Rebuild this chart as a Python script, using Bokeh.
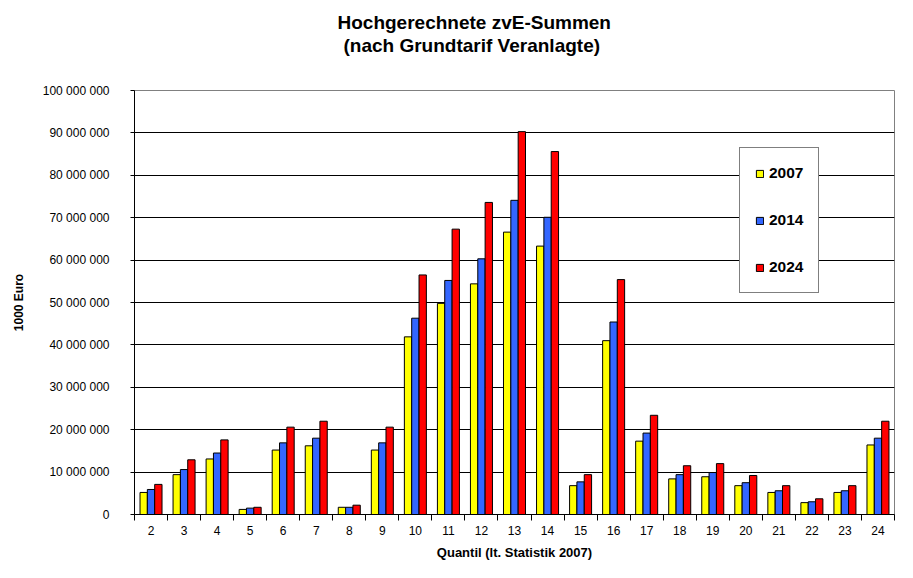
from bokeh.plotting import figure
from bokeh.models import ColumnDataSource, FixedTicker, Legend, LegendItem, Title, Range1d
from bokeh.transform import dodge
from bokeh.embed import file_html
from bokeh.resources import INLINE

quantile = ["2", "3", "4", "5", "6", "7", "8", "9", "10", "11", "12", "13",
            "14", "15", "16", "17", "18", "19", "20", "21", "22", "23", "24"]
v2007 = [5_200_000, 9_400_000, 13_100_000, 1_200_000, 15_200_000, 16_200_000,
         1_700_000, 15_200_000, 41_900_000, 49_800_000, 54_400_000, 66_600_000,
         63_300_000, 6_800_000, 41_000_000, 17_300_000, 8_400_000, 8_900_000,
         6_800_000, 5_200_000, 2_800_000, 5_200_000, 16_400_000]
v2014 = [5_900_000, 10_600_000, 14_500_000, 1_500_000, 16_900_000, 18_000_000,
         1_700_000, 16_900_000, 46_300_000, 55_200_000, 60_300_000, 74_100_000,
         70_100_000, 7_700_000, 45_400_000, 19_200_000, 9_400_000, 9_900_000,
         7_500_000, 5_600_000, 3_000_000, 5_600_000, 18_000_000]
v2024 = [7_100_000, 12_900_000, 17_600_000, 1_700_000, 20_600_000, 22_000_000,
         2_200_000, 20_600_000, 56_500_000, 67_300_000, 73_600_000, 90_300_000,
         85_600_000, 9_400_000, 55_400_000, 23_400_000, 11_500_000, 12_000_000,
         9_200_000, 6_800_000, 3_700_000, 6_800_000, 22_000_000]
series_names = ["2007", "2014", "2024"]
y_ticks = [0, 10_000_000, 20_000_000, 30_000_000, 40_000_000, 50_000_000,
           60_000_000, 70_000_000, 80_000_000, 90_000_000, 100_000_000]
y_tick_labels = ["0", "10 000 000", "20 000 000", "30 000 000", "40 000 000",
                 "50 000 000", "60 000 000", "70 000 000", "80 000 000",
                 "90 000 000", "100 000 000"]
title_lines = ["Hochgerechnete zvE-Summen", "(nach Grundtarif Veranlagte)"]

FONT = "Liberation Sans"
colors = ["#FFFF00", "#3366FF", "#FF0000"]

pos = list(range(1, len(quantile) + 1))
src = ColumnDataSource(dict(x=pos, y07=v2007, y14=v2014, y24=v2024))

p = figure(width=897, height=562, title=title_lines[0],
           x_range=Range1d(0.5, len(quantile) + 0.5),
           y_range=Range1d(0, 100_000_000),
           output_backend="svg", toolbar_location=None,
           min_border_left=134, min_border_right=3,
           min_border_top=90, min_border_bottom=46)
p.background_fill_color = "white"
p.border_fill_color = "white"
p.outline_line_color = "#808080"

# title: first line is the figure's own (outer) title
p.title.align = "left"
p.title.offset = 203
p.title.standoff = 0
p.title.text_font = FONT
p.title.text_font_size = "19px"
p.title.text_font_style = "bold"
p.title.text_color = "black"
# blank spacer panel between the frame and the second title line
p.add_layout(Title(text=" ", text_font_size="1px", standoff=32), "above")
p.add_layout(Title(text=title_lines[1], align="left", offset=209, standoff=0,
                   text_font=FONT, text_font_size="19px", text_font_style="bold",
                   text_color="black"), "above")

bw = 0.222
renderers = []
for col, off, c in zip(["y07", "y14", "y24"], [-bw, 0, bw], colors):
    r = p.vbar(x=dodge("x", off, range=p.x_range), top=col, bottom=0, width=bw,
               source=src, fill_color=c, line_color="black", line_width=1)
    renderers.append(r)

# axes
p.xaxis.ticker = FixedTicker(ticks=pos, minor_ticks=[i + 0.5 for i in range(len(quantile) + 1)])
p.xaxis.major_label_overrides = {x: q for x, q in zip(pos, quantile)}
p.xaxis.major_tick_in = 0
p.xaxis.major_tick_out = 0
p.xaxis.minor_tick_in = 0
p.xaxis.minor_tick_out = 6
p.xaxis.minor_tick_line_color = "black"
p.xaxis.axis_line_color = "black"
p.xaxis.major_label_standoff = 5
p.xaxis.major_label_text_font = FONT
p.xaxis.major_label_text_font_size = "12px"
p.xaxis.major_label_text_color = "black"
p.xaxis.axis_label = "Quantil (lt. Statistik 2007)"
p.xaxis.axis_label_text_font = FONT
p.xaxis.axis_label_text_font_size = "13px"
p.xaxis.axis_label_text_font_style = "bold"
p.xaxis.axis_label_text_color = "black"
p.xaxis.axis_label_standoff = 7

p.yaxis.ticker = FixedTicker(ticks=y_ticks, minor_ticks=[])
p.yaxis.major_label_overrides = {t: s for t, s in zip(y_ticks, y_tick_labels)}
p.yaxis.major_tick_in = 0
p.yaxis.major_tick_out = 4
p.yaxis.minor_tick_line_color = None
p.yaxis.axis_line_color = "black"
p.yaxis.major_tick_line_color = "black"
p.yaxis.major_label_standoff = 21
p.yaxis.major_label_text_font = FONT
p.yaxis.major_label_text_font_size = "12px"
p.yaxis.major_label_text_color = "black"
p.yaxis.axis_label = "1000 Euro"
p.yaxis.axis_label_text_font = FONT
p.yaxis.axis_label_text_font_size = "12px"
p.yaxis.axis_label_text_font_style = "bold"
p.yaxis.axis_label_text_color = "black"
p.yaxis.axis_label_standoff = 14

p.xgrid.grid_line_color = None
p.ygrid.ticker = FixedTicker(ticks=y_ticks[1:-1])
p.ygrid.grid_line_color = "black"
p.ygrid.grid_line_width = 1

legend = Legend(items=[LegendItem(label=n, renderers=[r]) for n, r in zip(series_names, renderers)],
                location=(605, 221), orientation="vertical",
                glyph_width=9, glyph_height=9, label_height=20, spacing=27,
                padding=15, label_standoff=5,
                label_text_font=FONT, label_text_font_size="15.5px",
                label_text_font_style="bold", label_text_color="black",
                border_line_color="black", border_line_width=1,
                background_fill_color="white", background_fill_alpha=1.0)
p.add_layout(legend, "center")

open("out.html", "w").write(file_html(p, INLINE))
